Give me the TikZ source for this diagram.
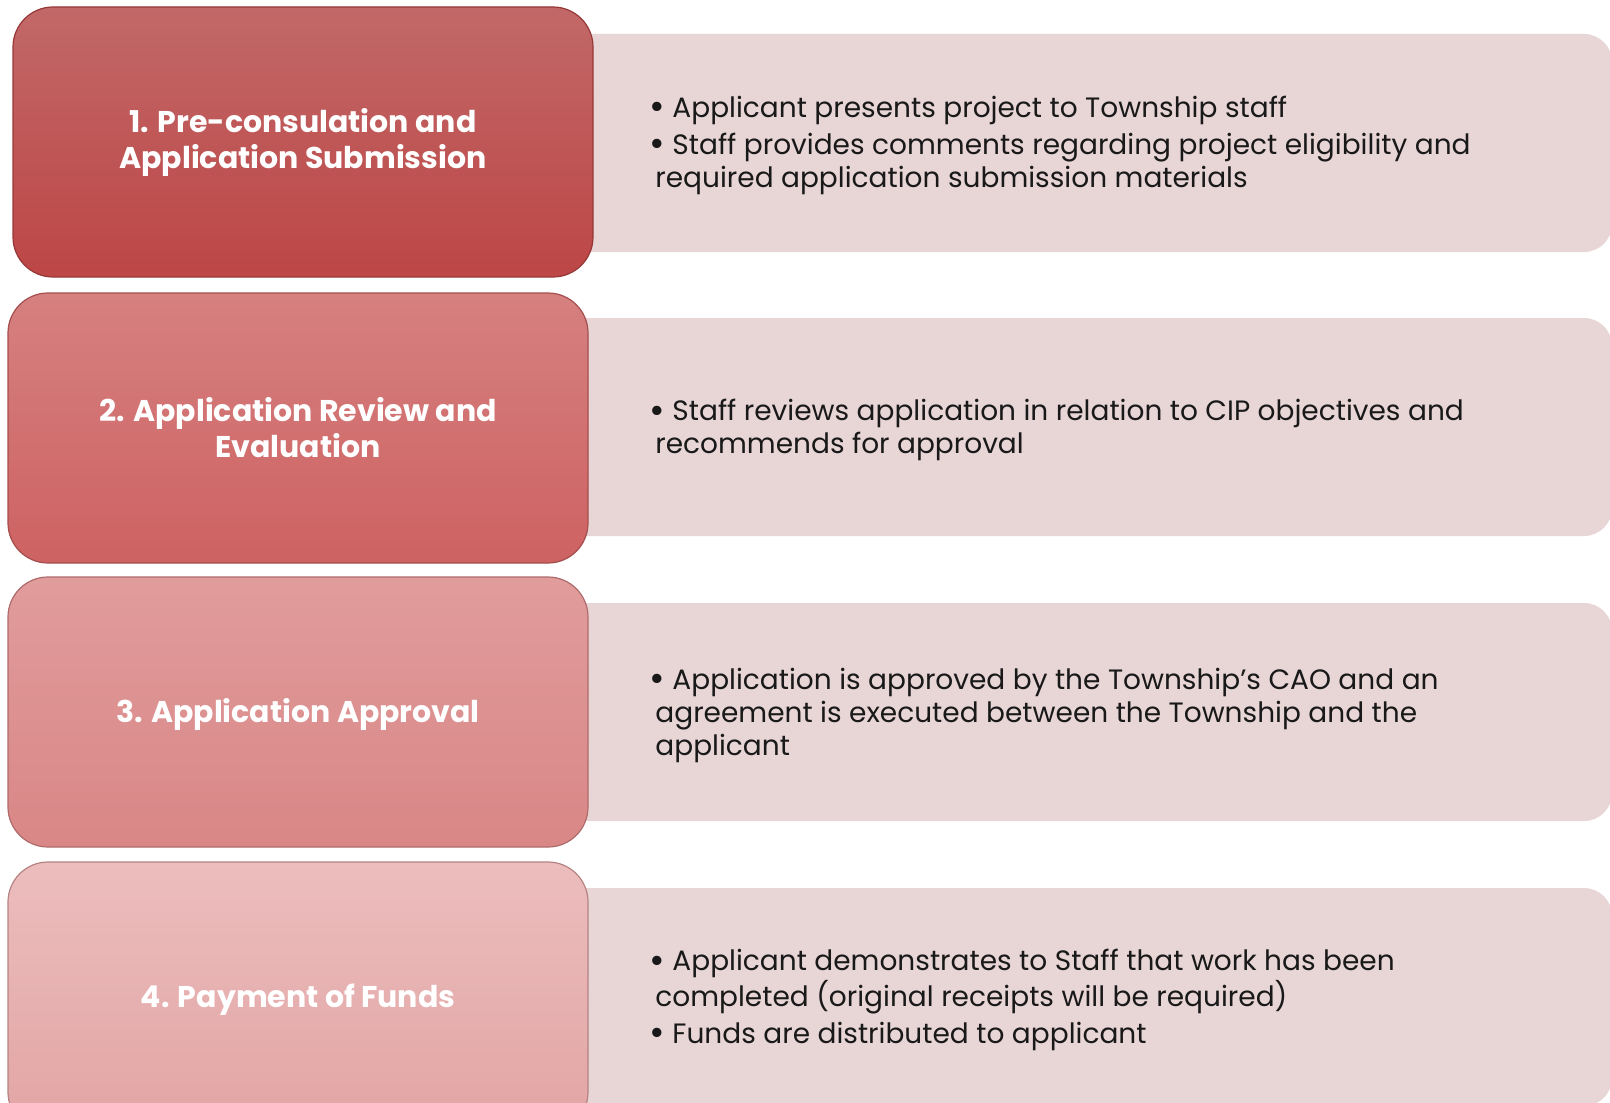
\documentclass[tikz,border=0pt]{standalone}
\usepackage{fontspec}
\setmainfont{Poppins}
\usetikzlibrary{positioning}

\definecolor{panelfill}{HTML}{E8D5D6}
\definecolor{stageonetop}{HTML}{C26868}
\definecolor{stageonebot}{HTML}{BD4646}
\definecolor{stagetwotop}{HTML}{D68080}
\definecolor{stagetwobot}{HTML}{CE6262}
\definecolor{stagethreetop}{HTML}{E19C9C}
\definecolor{stagethreebot}{HTML}{D98686}
\definecolor{stagefourtop}{HTML}{ECBDBD}
\definecolor{stagefourbot}{HTML}{E2A4A4}

\newcommand{\bigbul}{\raisebox{-0.09em}{\scalebox{1.35}{\textbullet}}}

\begin{document}
\begin{tikzpicture}[x=0.5pt,y=-0.5pt,
    stagebox/.style={rectangle,rounded corners=20pt,minimum width=290pt,minimum height=135pt,
      line width=0.6pt,text=white,align=center,font=\fontsize{15}{18}\selectfont\bfseries,
      execute at begin node={\rule{0pt}{14pt}}},
    infopanel/.style={rectangle,rounded corners=14pt,fill=panelfill,minimum width=526pt,minimum height=109pt},
    infotext/.style={anchor=west,align=left,inner xsep=0pt,text=black!90,font=\fontsize{14}{16.5}\selectfont}]
    \fill[white] (0,0) rectangle (1610,1102);
    \useasboundingbox (0,0) rectangle (1610,1102);

    % panels behind the stage boxes
    \node[infopanel] (panel1) at (1086,143) {};
    \node[infopanel] (panel2) at (1086,427) {};
    \node[infopanel] (panel3) at (1086,712) {};
    \node[infopanel] (panel4) at (1086,997) {};

    % stage boxes
    \node[stagebox,top color=stageonetop,bottom color=stageonebot,draw=stageonebot!80!black] (stage1) at (303,142) {1. Pre-consulation and\\Application Submission};
    \node[stagebox,top color=stagetwotop,bottom color=stagetwobot,draw=stagetwobot!80!black] (stage2) at (298,428) {2. Application Review and\\Evaluation};
    \node[stagebox,top color=stagethreetop,bottom color=stagethreebot,draw=stagethreebot!80!black] (stage3) at (298,712) {3. Application Approval};
    \node[stagebox,top color=stagefourtop,bottom color=stagefourbot,draw=stagefourbot!80!black] (stage4) at (298,997) {4. Payment of Funds};

    % bullet texts
    \node[infotext] (info1) at (649,145) {\bigbul\ Applicant presents project to Township staff\\[2pt]
      \bigbul\ Staff provides comments regarding project eligibility and\\
      \hspace*{3pt}required application submission materials};
    \node[infotext] (info2) at (649,430) {\bigbul\ Staff reviews application in relation to CIP objectives and\\
      \hspace*{3pt}recommends for approval};
    \node[infotext] (info3) at (649,715) {\bigbul\ Application is approved by the Township's CAO and an\\
      \hspace*{3pt}agreement is executed between the Township and the\\
      \hspace*{3pt}applicant};
    \node[infotext] (info4) at (649,1000) {\bigbul\ Applicant demonstrates to Staff that work has been\\
      \hspace*{3pt}completed (original receipts will be required)\\[2pt]
      \bigbul\ Funds are distributed to applicant};
\end{tikzpicture}
\end{document}
